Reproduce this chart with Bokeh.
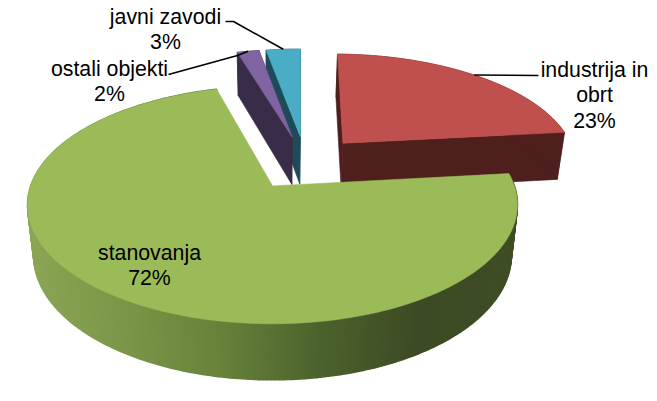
import numpy as np
from bokeh.plotting import figure
from bokeh.models import ColumnDataSource
from bokeh.core.properties import value
from bokeh.embed import file_html
from bokeh.resources import INLINE

categories = ["industrija in\nobrt", "stanovanja", "ostali objekti", "javni zavodi"]
shares = [23.0, 72.4, 1.8, 2.8]
top_colors = ["#c0504d", "#9bbb59", "#8064a2", "#4bacc6"]
wall_colors = ["#4f1f1d", "#5f7a35", "#392c48", "#1e4b59"]

# projection parameters
CX, CY, A, B, K = 274.5, 186.0, 242.0, 116.0, 0.16
FX, FY, T = 0.975, 1.047, 49.6
PIE_C = (0.13, 0.212)
EXPLODE = 0.25
START = 1.0


def proj(u, v, bottom=False):
    u, v = np.asarray(u, float), np.asarray(v, float)
    s = 1 / (1 + K * v)
    x, y = u * A * s, -B * v * s
    if bottom:
        x, y = x * FX, y * FY + T
    return CX + x, CY + y


def hexmix(stops, t):
    t = np.clip(t, 0, 1) * (len(stops) - 1)
    i = min(int(t), len(stops) - 2)
    f = t - i
    a = [int(stops[i][j:j + 2], 16) for j in (1, 3, 5)]
    b = [int(stops[i + 1][j:j + 2], 16) for j in (1, 3, 5)]
    return "#%02x%02x%02x" % tuple(int(round(a[k] + (b[k] - a[k]) * f)) for k in range(3))


GREEN_STOPS = ["#8ba655", "#7a9647", "#66823a", "#4c622d", "#3d4b24", "#3f4d25"]

# slice geometry
edges = START + np.concatenate([[0], np.cumsum(shares)]) * 3.6
slices = []
for i in range(len(shares)):
    a0, a1 = edges[i], edges[i + 1]
    mid = np.radians((a0 + a1) / 2)
    ux, vx = PIE_C[0] + EXPLODE * np.sin(mid), PIE_C[1] + EXPLODE * np.cos(mid)
    th = np.radians(np.linspace(a0, a1, max(4, int((a1 - a0) * 1.2))))
    slices.append(dict(ux=ux, vx=vx, u=ux + np.sin(th), v=vx + np.cos(th), mid=mid))

p = figure(width=649, height=393, x_range=(0, 649), y_range=(393, 0),
           output_backend="svg", toolbar_location=None, min_border=0,
           outline_line_color=None, background_fill_color="white")
p.axis.visible = False
p.grid.visible = False


def poly(xs, ys, color):
    p.patch(xs, ys, fill_color=color, line_color=color, line_width=0.6)


for i in [3, 2, 0, 1]:
    s = slices[i]
    apex_t = proj(s["ux"], s["vx"])
    apex_b = proj(s["ux"], s["vx"], True)
    tx, ty = proj(s["u"], s["v"])
    bx, by = proj(s["u"], s["v"], True)
    # radial walls (the big slice's are hidden behind its own top)
    if i != 1:
        for j in (0, -1):
            poly([apex_t[0], tx[j], bx[j], apex_b[0]], [apex_t[1], ty[j], by[j], apex_b[1]], wall_colors[i])
    # rim wall
    if i == 1:
        order = np.argsort(tx[:-1])
        xs, ys, cols = [], [], []
        for j in order:
            xs.append([tx[j], tx[j + 1], bx[j + 1], bx[j]])
            ys.append([ty[j], ty[j + 1], by[j + 1], by[j]])
            cols.append(hexmix(GREEN_STOPS, ((tx[j] + tx[j + 1]) / 2 - 26) / 491))
        p.patches(xs, ys, fill_color=cols, line_color=cols, line_width=1.5)
    else:
        poly(list(tx) + list(bx[::-1]), list(ty) + list(by[::-1]), wall_colors[i])
    # top face
    poly([apex_t[0]] + list(tx), [apex_t[1]] + list(ty), top_colors[i])


def rim(i):
    s = slices[i]
    return proj(s["ux"] + np.sin(s["mid"]), s["vx"] + np.cos(s["mid"]))


# leader lines: from label to slice rim
LEADERS = {0: [(538, 75)], 2: [(168, 74), (237, 55)], 3: [(225, 21), (233, 21)]}
for i, pts in LEADERS.items():
    rx, ry = rim(i)
    p.line([q[0] for q in pts] + [float(rx)], [q[1] for q in pts] + [float(ry)],
           line_color="black", line_width=1.6)

labels = [f"{c}\n{round(v)}%" for c, v in zip(categories, shares)]
LABEL_POS = [(594, 95), (149, 265), (109, 81), (165, 29)]
src = ColumnDataSource(dict(x=[q[0] for q in LABEL_POS], y=[q[1] for q in LABEL_POS], t=labels))
p.text("x", "y", text="t", source=src, text_font=value("Liberation Sans"), text_font_size="21.3px",
       text_align="center", text_baseline="middle", text_color="black", text_line_height=1.05)

open("out.html", "w").write(file_html(p, INLINE))
